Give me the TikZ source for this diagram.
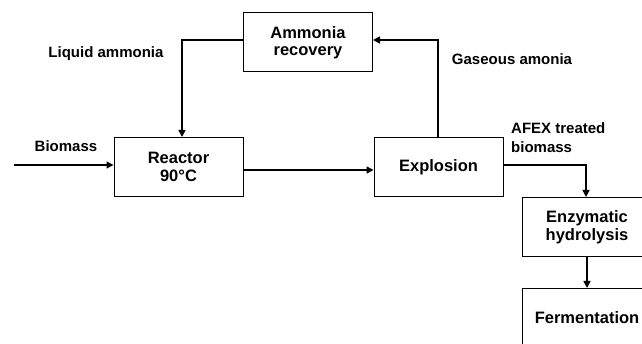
\documentclass[tikz,border=0pt]{standalone}
\usepackage{fontspec}
\setmainfont{Liberation Sans}
\usetikzlibrary{arrows.meta}
\begin{document}
\begin{tikzpicture}[x=1pt,y=-1pt,
  box/.style={draw=black,line width=1pt,fill=white,minimum width=129pt,minimum height=59pt,
    align=center,font=\fontsize{16.5}{17.5}\selectfont\bfseries,inner sep=0pt},
  lbl/.style={font=\fontsize{15}{19}\selectfont\bfseries,inner sep=0pt},
  flow/.style={line width=1.4pt,-{Triangle[length=7pt,width=7pt]}}]
\useasboundingbox (0,0) rectangle (642,344);
\clip (0,0) rectangle (642,344);
\node[box] (amm) at (308,42.5) {Ammonia\\recovery};
\node[box] (reac) at (178.5,167) {Reactor\\ 90°C};
\node[box] (expl) at (438.5,167) {Explosion};
\node[box] (enz) at (587,227) {Enzymatic\\hydrolysis};
\node[box] (ferm) at (587,318) {Fermentation};
\coordinate (bin) at (14,165);
\coordinate (la) at (182,40);
\coordinate (ga) at (438,40);
\coordinate (af) at (586,165);
\coordinate (rx) at (0,170);
\draw[flow] (amm.west |- la) -| (reac.north -| la);
\draw[flow] (bin) -- (reac.west |- bin);
\draw[flow] (reac.east |- rx) -- (expl.west |- rx);
\draw[flow] (expl.north -| ga) |- (amm.east |- ga);
\draw[flow] (expl.east |- af) -| (enz.north -| af);
\draw[flow] (enz.south) -- (ferm.north);
\node[lbl] (lliq) at (106,54) {Liquid ammonia};
\node[lbl] (lbio) at (66,146) {Biomass};
\node[lbl] (lgas) at (512,59) {Gaseous amonia};
\node[lbl,anchor=west,align=left] (lafex) at (511,138) {AFEX treated\\biomass};
\end{tikzpicture}
\end{document}
